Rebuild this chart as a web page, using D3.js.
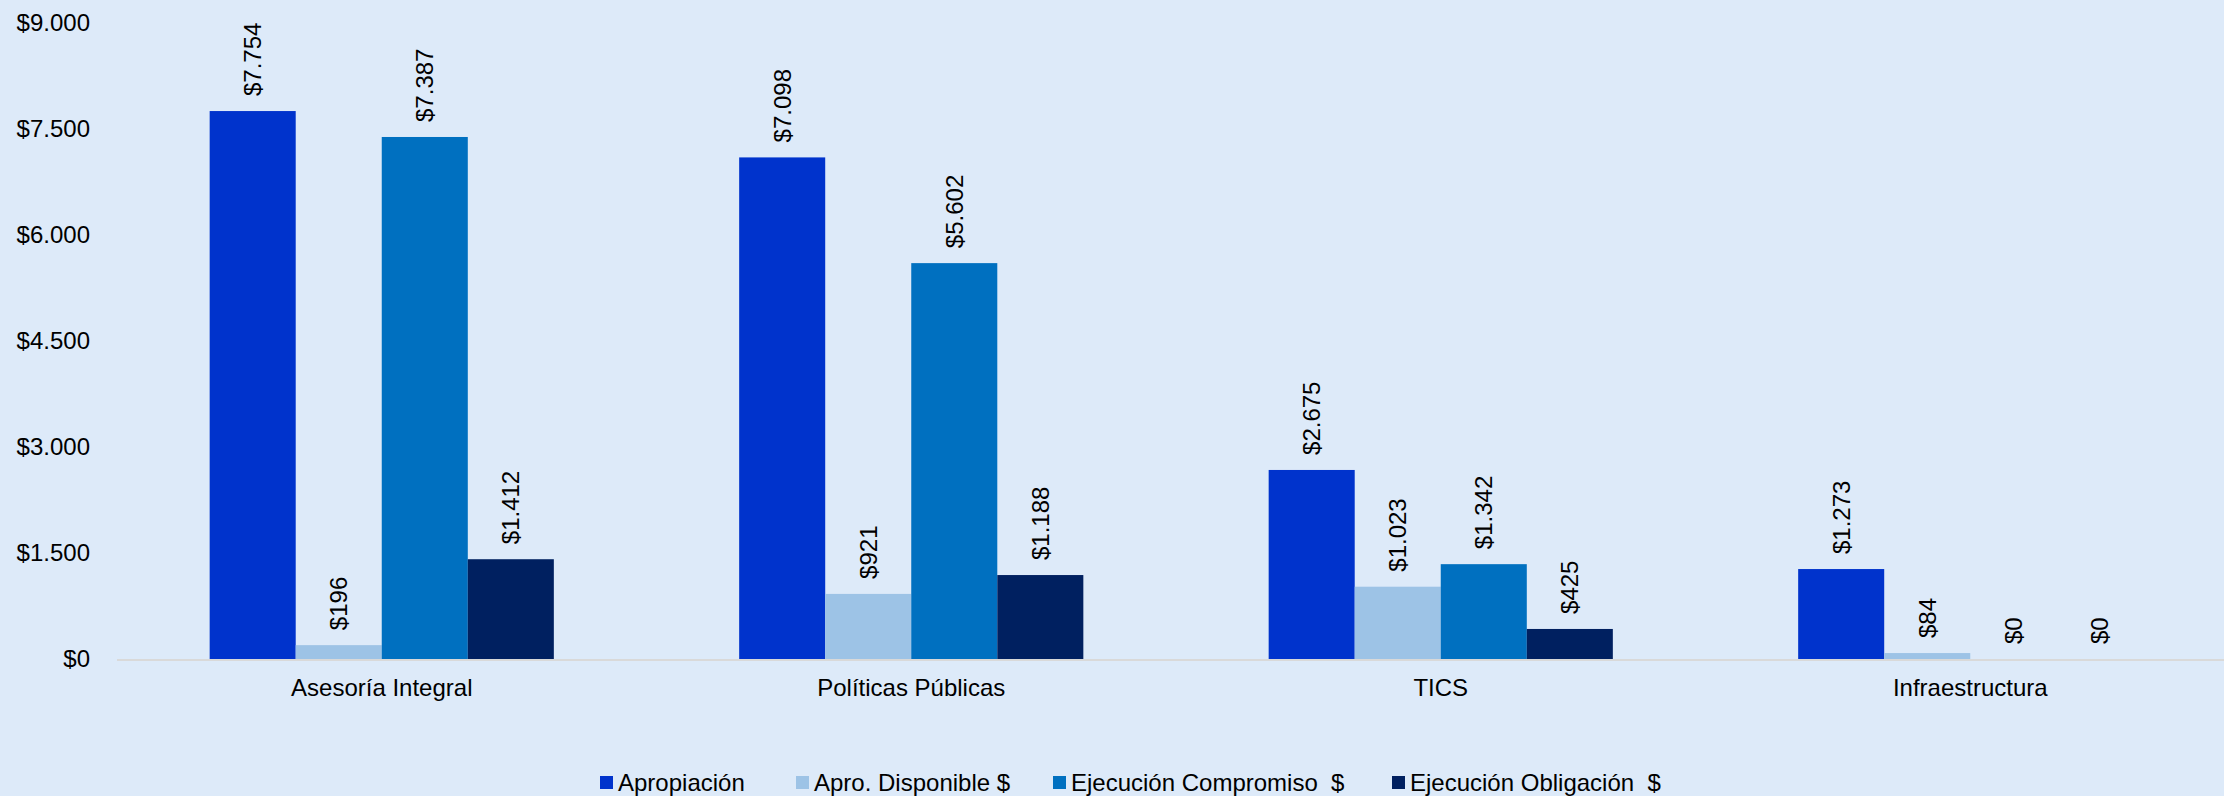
<!DOCTYPE html>
<html><head><meta charset="utf-8">
<script src="https://cdn.jsdelivr.net/npm/d3@7"></script>
<style>
html,body{margin:0;padding:0;background:#DDEAF9;}
svg{display:block;font-family:"Liberation Sans",Arial,sans-serif;}
</style></head>
<body>
<svg id="chart" width="2224" height="796"></svg>
<script>
const categories = ["Asesoría Integral", "Políticas Públicas", "TICS", "Infraestructura"];
const seriesNames = ["Apropiación", "Apro. Disponible $", "Ejecución Compromiso  $", "Ejecución Obligación  $"];
const apropiacion = [7754, 7098, 2675, 1273];
const aproDisponible = [196, 921, 1023, 84];
const ejecCompromiso = [7387, 5602, 1342, 0];
const ejecObligacion = [1412, 1188, 425, 0];
const yTicks = [0, 1500, 3000, 4500, 6000, 7500, 9000];
const colors = ["#0033CC", "#9DC3E6", "#0070C0", "#002060"];

const seriesValues = [apropiacion, aproDisponible, ejecCompromiso, ejecObligacion];
const loc = d3.formatLocale({decimal: ",", thousands: ".", grouping: [3], currency: ["$", ""]});
const fmt = loc.format("$,.0f");

const svg = d3.select("#chart");
const W = 2224, H = 796;
svg.append("rect").attr("width", W).attr("height", H).attr("fill", "#DDEAF9");

const plotLeft = 117, plotRight = 2235, y0 = 659, yTop = 23;
const x0 = d3.scaleBand().domain(categories).range([plotLeft, plotRight]).padding(0);
const groupW = x0.bandwidth() * 0.65;
const x1 = d3.scaleBand().domain(seriesNames)
  .range([(x0.bandwidth() - groupW) / 2, (x0.bandwidth() + groupW) / 2]).padding(0);
const y = d3.scaleLinear().domain([0, 9000]).range([y0, yTop]);

// Y axis labels
const yAxis = d3.axisLeft(y).tickValues(yTicks).tickFormat(fmt).tickSize(0).tickPadding(0);
const ya = svg.append("g").attr("transform", "translate(90,0)").call(yAxis);
ya.select(".domain").remove();
ya.selectAll("text").attr("font-size", 24).attr("fill", "#000")
  .attr("font-family", "'Liberation Sans',Arial,sans-serif");

// Bars
const data = [];
categories.forEach((c, i) => seriesNames.forEach((s, j) => data.push({c, s, j, v: seriesValues[j][i]})));

svg.append("g").selectAll("rect").data(data).join("rect")
  .attr("x", d => x0(d.c) + x1(d.s))
  .attr("y", d => y(d.v))
  .attr("width", x1.bandwidth())
  .attr("height", d => y0 - y(d.v))
  .attr("fill", d => colors[d.j]);

// X axis line
svg.append("line").attr("x1", plotLeft).attr("x2", W).attr("y1", y0 + 1).attr("y2", y0 + 1)
  .attr("stroke", "#D9D9D9").attr("stroke-width", 2);

// Category labels
const xAxis = d3.axisBottom(x0).tickSize(0).tickPadding(0);
const xa = svg.append("g").attr("transform", `translate(0,${y0})`).call(xAxis);
xa.select(".domain").remove();
xa.selectAll("text").attr("font-size", 24).attr("fill", "#000").attr("dy", 0).attr("y", 37)
  .attr("font-family", "'Liberation Sans',Arial,sans-serif");

// Value labels
svg.append("g").selectAll("text").data(data).join("text")
  .attr("transform", d => `translate(${x0(d.c) + x1(d.s) + x1.bandwidth() / 2},${y(d.v) - 15}) rotate(-90)`)
  .attr("dy", "0.35em")
  .attr("text-anchor", "start")
  .attr("font-size", 24)
  .attr("fill", "#000")
  .text(d => fmt(d.v));

// Legend
const legendX = [600, 796, 1053, 1392];
const lg = svg.append("g").selectAll("g").data(seriesNames).join("g")
  .attr("transform", (d, i) => `translate(${legendX[i]},783)`);
lg.append("rect").attr("x", 0).attr("y", -7).attr("width", 13).attr("height", 13)
  .attr("fill", (d, i) => colors[i]);
lg.append("text").attr("x", 18).attr("dy", "0.35em").attr("font-size", 24).attr("fill", "#000")
  .attr("xml:space", "preserve").style("white-space", "pre").text(d => d);
</script>
</body></html>
